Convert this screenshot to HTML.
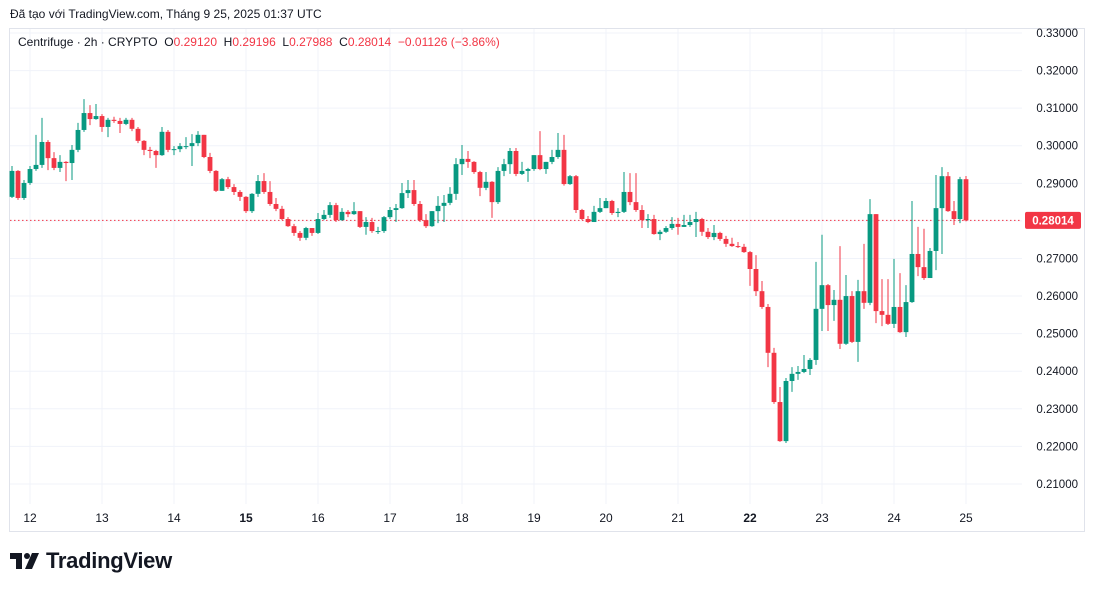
<!DOCTYPE html>
<html><head><meta charset="utf-8">
<style>
html,body{margin:0;padding:0;background:#fff;}
body{width:1094px;height:592px;overflow:hidden;position:relative;font-family:"Liberation Sans","Noto Sans CJK SC",sans-serif;}
#hdr{position:absolute;left:10px;top:7px;font-size:12px;color:#131722;}
#leg{position:absolute;left:18px;top:35px;font-size:12px;color:#131722;white-space:nowrap;}
#leg .r{color:#F23645;}
#logo{position:absolute;left:10px;top:548px;font-size:22px;font-weight:bold;color:#131722;display:flex;align-items:center;gap:6px;letter-spacing:-0.3px;}
svg{position:absolute;left:0;top:0;}
</style></head><body>
<div id="hdr">Đã tạo với TradingView.com, Tháng 9 25, 2025 01:37 UTC</div>
<svg id="chart" width="1094" height="592"></svg>
<div id="leg">Centrifuge · 2h · CRYPTO &nbsp;O<span class="r">0.29120</span> &nbsp;H<span class="r">0.29196</span> &nbsp;L<span class="r">0.27988</span> &nbsp;C<span class="r">0.28014</span> &nbsp;<span class="r">−0.01126 (−3.86%)</span></div>
<div id="logo"><svg style="position:static" width="30" height="16" viewBox="0 0 30 16"><path d="M0 0h12v16H6V6H0z" fill="#131722"/><circle cx="17" cy="3" r="3" fill="#131722"/><path d="M22 0h7l-7 16h-7z" fill="#131722"/></svg><span>TradingView</span></div>
<script>
const firstOpen = 0.2864;
const closes = [.2933,.2861,.2901,.2938,.2949,.3010,.2967,.2941,.2957,.2954,.2989,.3042,.3087,.3071,.3079,.3050,.3069,.3066,.3058,.3069,
.3045,.3013,.2989,.2986,.2975,.3037,.2989,.2991,.2999,.2999,.3007,.3029,.2970,.2933,.2880,.2911,.2890,.2877,.2864,.2826,
.2872,.2906,.2877,.2845,.2832,.2805,.2786,.2768,.2755,.2781,.2768,.2805,.2816,.2842,.2802,.2824,.2818,.2826,.2784,.2797,
.2773,.2773,.2810,.2829,.2834,.2874,.2882,.2845,.2802,.2786,.2826,.2840,.2848,.2872,.2951,.2965,.2957,.2930,.2888,.2904,
.2850,.2933,.2951,.2986,.2925,.2933,.2938,.2975,.2938,.2957,.2970,.2989,.2898,.2919,.2829,.2805,.2797,.2824,.2834,.2853,
.2821,.2824,.2877,.2850,.2829,.2802,.2805,.2765,.2771,.2781,.2792,.2784,.2789,.2797,.2805,.2771,.2757,.2768,.2752,.2739,
.2733,.2731,.2717,.2672,.2613,.2571,.2449,.2318,.2214,.2374,.2393,.2398,.2406,.2430,.2566,.2629,.2576,.2590,.2473,.2600,
.2478,.2613,.2582,.2818,.2560,.2550,.2526,.2571,.2504,.2584,.2712,.2677,.2648,.2720,.2834,.2919,.2826,.2805,.2911,.28014];
const highs = [.2946,.2935,.2909,.2946,.3029,.3074,.3015,.2983,.2975,.2959,.3002,.3061,.3124,.3108,.3111,.3084,.3074,.3077,.3074,.3074,
.3074,.3050,.3015,.2997,.2989,.3050,.3042,.2999,.3007,.3023,.3031,.3039,.3029,.2981,.2935,.2914,.2917,.2898,.2882,.2866,
.2874,.2922,.2927,.2906,.2861,.2840,.2810,.2792,.2773,.2784,.2781,.2821,.2829,.2850,.2848,.2834,.2829,.2850,.2826,.2810,
.2808,.2784,.2813,.2837,.2845,.2901,.2909,.2909,.2853,.2818,.2826,.2866,.2869,.2890,.2967,.3002,.2986,.2959,.2933,.2930,
.2906,.2943,.2965,.2994,.2994,.2957,.2941,.2975,.3039,.2957,.2989,.3034,.3029,.2922,.2922,.2832,.2813,.2840,.2861,.2861,
.2856,.2834,.2930,.2927,.2927,.2842,.2818,.2816,.2776,.2786,.2810,.2808,.2816,.2816,.2824,.2808,.2781,.2789,.2771,.2760,
.2755,.2744,.2739,.2720,.2709,.2640,.2579,.2462,.2358,.2382,.2411,.2414,.2443,.2435,.2691,.2763,.2632,.2616,.2733,.2656,
.2613,.2643,.2739,.2858,.2818,.2645,.2645,.2699,.2661,.2629,.2853,.2784,.2779,.2728,.2922,.2943,.2930,.2853,.2917,.29196];
const lows = [.2861,.2856,.2856,.2896,.2933,.2941,.2935,.2935,.2930,.2906,.2909,.2983,.3037,.3055,.3069,.3037,.3023,.3061,.3034,.3055,
.3039,.3007,.2975,.2967,.2941,.2973,.2983,.2975,.2983,.2991,.2946,.2999,.2967,.2927,.2877,.2880,.2885,.2869,.2853,.2821,
.2821,.2864,.2872,.2840,.2826,.2802,.2784,.2760,.2747,.2749,.2760,.2765,.2802,.2808,.2797,.2800,.2810,.2816,.2781,.2763,
.2768,.2765,.2768,.2805,.2797,.2832,.2861,.2840,.2797,.2781,.2784,.2794,.2797,.2842,.2856,.2922,.2941,.2925,.2866,.2882,
.2808,.2845,.2919,.2925,.2919,.2922,.2904,.2933,.2935,.2925,.2951,.2965,.2894,.2896,.2821,.2802,.2794,.2797,.2821,.2834,
.2816,.2810,.2821,.2842,.2824,.2781,.2781,.2763,.2749,.2768,.2776,.2763,.2784,.2784,.2757,.2760,.2752,.2749,.2747,.2731,
.2731,.2728,.2715,.2627,.2600,.2566,.2411,.2313,.2212,.2209,.2345,.2377,.2395,.2390,.2417,.2507,.2507,.2534,.2459,.2470,
.2475,.2425,.2566,.2576,.2528,.2520,.2523,.2515,.2502,.2491,.2582,.2653,.2643,.2648,.2669,.2712,.2824,.2789,.2794,.27988];
const priceTicks = [0.33,0.32,0.31,0.30,0.29,0.28,0.27,0.26,0.25,0.24,0.23,0.22,0.21];
const dayLabels = ['12','13','14','15','16','17','18','19','20','21','22','23','24','25'];
const boldDays = ['15','22'];
const lastPrice = 0.28014;

const NS='http://www.w3.org/2000/svg';
const svg=document.getElementById('chart');
const UP='#089981', DN='#F23645';
function yS(p){return 33+(0.33-p)*3758;}
function xS(i){return 12+6*i;}
function mk(tag,attrs,parent){const e=document.createElementNS(NS,tag);for(const k in attrs)e.setAttribute(k,attrs[k]);(parent||svg).appendChild(e);return e;}

const fr=mk('rect',{x:9.5,y:28.5,width:1075,height:503,fill:'none',stroke:'#e0e3eb','stroke-width':1});


priceTicks.forEach(p=>{
  const g=mk('line',{x1:10,x2:1022,y1:yS(p),y2:yS(p),stroke:'#f0f3fa','stroke-width':1});
  
  
  const t=mk('text',{x:1078,y:yS(p)+4,'text-anchor':'end','font-size':11.5,fill:'#131722','font-family':'Liberation Sans, sans-serif'});
  t.textContent=p.toFixed(5);
  
  
});
dayLabels.forEach((d,k)=>{
  const x=xS(3+12*k);
  const g=mk('line',{x1:x,x2:x,y1:29,y2:504,stroke:'#f0f3fa','stroke-width':1});
  
  
  const t=mk('text',{x:x,y:522,'text-anchor':'middle','font-size':12,fill:'#131722','font-weight':boldDays.includes(d)?'bold':'normal','font-family':'Liberation Sans, sans-serif'});
  t.textContent=d;
  
  
});
const ll=mk('line',{x1:10,x2:1022,y1:yS(lastPrice),y2:yS(lastPrice),stroke:DN,'stroke-width':1,'stroke-dasharray':'1.5 2.5'});


closes.forEach((c,i)=>{
  const o=i===0?firstOpen:closes[i-1];
  const col=c>=o?UP:DN;
  const x=xS(i);
  const g=mk('g',{});
  
  
  mk('line',{x1:x,x2:x,y1:yS(highs[i]),y2:yS(lows[i]),stroke:col,'stroke-width':1},g);
  const top=yS(Math.max(o,c)),bot=yS(Math.min(o,c));
  mk('rect',{x:x-2.4,y:top,width:4.8,height:Math.max(1,bot-top),fill:col},g);
});
const lb=mk('rect',{x:1025,y:yS(lastPrice)-8.5,width:56,height:17,rx:2,fill:DN});


const lt=mk('text',{x:1053,y:yS(lastPrice)+4,'text-anchor':'middle','font-size':11.5,'font-weight':'bold',fill:'#fff','font-family':'Liberation Sans, sans-serif'});
lt.textContent=lastPrice.toFixed(5);


</script>
</body></html>
